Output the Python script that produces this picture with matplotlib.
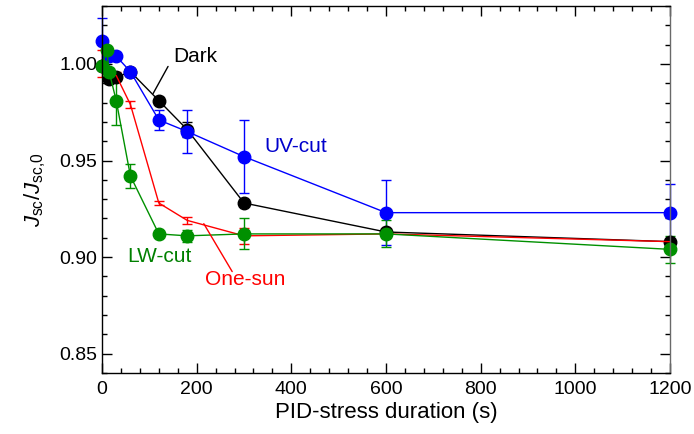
import numpy as np
import matplotlib
matplotlib.use('Agg')
import matplotlib.pyplot as plt
from matplotlib.ticker import MultipleLocator

plt.rcParams['font.family'] = ['Liberation Sans', 'DejaVu Sans']
plt.rcParams['mathtext.fontset'] = 'custom'
plt.rcParams['mathtext.rm'] = 'Liberation Sans'
plt.rcParams['mathtext.it'] = 'Liberation Sans:italic'

# PID-stress duration (s) and normalised Jsc
t_dark = [0, 15, 30, 60, 120, 180, 300, 600, 1200]
dark = [0.999, 0.992, 0.993, 0.996, 0.981, 0.966, 0.928, 0.913, 0.908]
dark_err = [0.002, 0.002, 0.002, 0.002, 0.002, 0.004, 0.001, 0.001, 0.001]

t_sun = [0, 15, 30, 60, 120, 180, 300, 600, 1200]
sun = [1.000, 0.995, 0.994, 0.979, 0.928, 0.919, 0.911, 0.912, 0.908]
sun_err = [0.007, 0.002, 0.002, 0.002, 0.001, 0.002, 0.004, 0.002, 0.001]

t_uv = [0, 15, 30, 60, 120, 180, 300, 600, 1200]
uv = [1.012, 1.004, 1.004, 0.996, 0.971, 0.965, 0.952, 0.923, 0.923]
uv_err = [0.012, 0.002, 0.002, 0.002, 0.005, 0.011, 0.019, 0.017, 0.015]

t_lw = [0, 10, 15, 30, 60, 120, 180, 300, 600, 1200]
lw = [0.999, 1.007, 0.996, 0.981, 0.942, 0.912, 0.911, 0.912, 0.912, 0.904]
lw_err = [0.001, 0.001, 0.002, 0.0125, 0.006, 0.001, 0.003, 0.008, 0.007, 0.007]

fig = plt.figure(figsize=(6.94, 4.34), dpi=100)
ax = fig.add_axes([0.147, 0.1406, 0.8184, 0.8456])

kw = dict(lw=1.0, elinewidth=1.0, capsize=3.5, capthick=1.0, ms=9, clip_on=False)
series = [
    (t_dark, dark, dark_err, 'black', 'o'),
    (t_sun, sun, sun_err, '#ff0000', ''),
    (t_uv, uv, uv_err, '#0000ff', 'o'),
    (t_lw, lw, lw_err, '#009000', 'o'),
]
for t, v, e, c, m in series:
    cont = ax.errorbar(t, v, yerr=e, color=c, marker=m, **kw)
    for art in cont.lines[1] + cont.lines[2]:
        art.set_clip_on(False)

ax.set_xlim(0, 1200)
ax.set_ylim(0.84, 1.03)
ax.xaxis.set_major_locator(MultipleLocator(200))
ax.xaxis.set_minor_locator(MultipleLocator(40))
ax.yaxis.set_minor_locator(MultipleLocator(0.01))
ax.set_yticks([0.85, 0.90, 0.95, 1.00])
ax.set_yticklabels(['0.85', '0.90', '0.95', '1.00'])
ax.tick_params(which='both', direction='in', top=True, right=True, labelsize=14)
ax.tick_params(which='major', length=7, width=1)
ax.tick_params(which='minor', length=3.5, width=1)
ax.tick_params(axis='x', pad=6)
for s in ax.spines.values():
    s.set_linewidth(1.0)
ax.spines['right'].set_color('dimgray')

ax.set_xlabel('PID-stress duration (s)', fontsize=16, labelpad=3)
ax.set_ylabel(r'$J_{\mathrm{sc}}/J_{\mathrm{sc{,}0}}$', fontsize=16, labelpad=8)

lab = dict(fontsize=15, va='center', ha='left')
ax.text(150, 1.0039, 'Dark', color='black', **lab)
ax.annotate('', xy=(108, 0.9847), xytext=(139.5, 0.9987),
            arrowprops=dict(arrowstyle='-', color='black', lw=1.0, shrinkA=0, shrinkB=0))
ax.text(344, 0.9573, 'UV-cut', color='#0000cc', **lab)
ax.text(53, 0.9003, 'LW-cut', color='#008000', **lab)
ax.text(218, 0.8883, 'One-sun', color='#ff0000', **lab)
ax.annotate('', xy=(215, 0.9173), xytext=(275, 0.8925),
            arrowprops=dict(arrowstyle='-', color='#ff0000', lw=1.0, shrinkA=0, shrinkB=0))

fig.savefig('out.png', dpi=100)
